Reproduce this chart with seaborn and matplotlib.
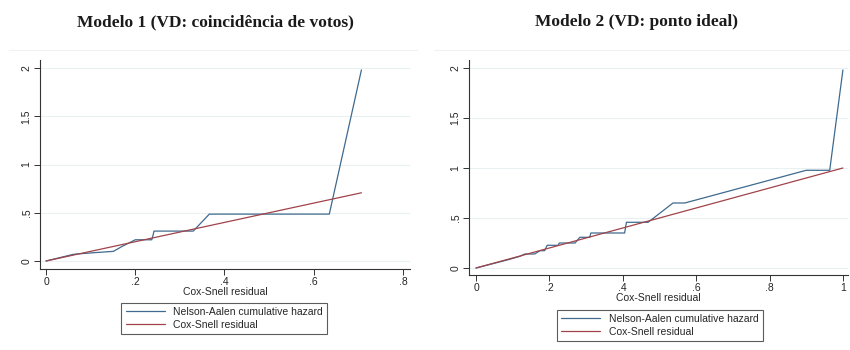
import matplotlib
matplotlib.use("Agg")
import matplotlib.pyplot as plt
import seaborn as sns
import pandas as pd

sns.set_style("white")
plt.rcParams['font.family'] = ['Liberation Sans', 'DejaVu Sans']

# Modelo 1 - Nelson-Aalen cumulative hazard vs Cox-Snell residual
m1_x = [0, 0.062, 0.107, 0.151, 0.17, 0.2, 0.237, 0.24, 0.242, 0.33, 0.366, 0.635, 0.707]
m1_y = [0, 0.07, 0.086, 0.10, 0.15, 0.22, 0.22, 0.27, 0.31, 0.31, 0.486, 0.486, 1.98]
m1_ref = [0, 0.707]

# Modelo 2
m2_x = [0, 0.088, 0.12, 0.133, 0.16, 0.174, 0.187, 0.194, 0.224, 0.227, 0.27, 0.283, 0.31,
        0.313, 0.405, 0.41, 0.469, 0.537, 0.569, 0.9, 0.964, 1.0]
m2_y = [0, 0.083, 0.117, 0.14, 0.14, 0.173, 0.173, 0.227, 0.227, 0.25, 0.25, 0.307, 0.307,
        0.35, 0.35, 0.457, 0.457, 0.65, 0.65, 0.977, 0.977, 1.98]
m2_ref = [0, 1.0]

titles = ["Modelo 1 (VD: coincidência de votos)", "Modelo 2 (VD: ponto ideal)"]
x_ticks = [[0, 0.2, 0.4, 0.6, 0.8], [0, 0.2, 0.4, 0.6, 0.8, 1]]
y_ticks = [0, 0.5, 1, 1.5, 2]
labels = ["Nelson-Aalen cumulative hazard", "Cox-Snell residual"]

blue = "#3f6a8e"
red = "#a0434a"


def stata_fmt(v):
    s = f"{v:g}"
    if s.startswith("0."):
        s = s[1:]
    return s


fig = plt.figure(figsize=(8.5, 3.5), dpi=100)
ax1 = fig.add_axes([0.0471, 0.2314, 0.4353, 0.5971])
ax2 = fig.add_axes([0.5518, 0.2143, 0.4459, 0.6143])

panels = [
    (ax1, m1_x, m1_y, m1_ref, (-0.0135, 0.816), (-0.083, 2.083), 0.264, 0.09),
    (ax2, m2_x, m2_y, m2_ref, (-0.019, 1.014), (-0.07, 2.08), 0.776, 0.07),
]

for i, (ax, xs, ys, ref, xl, yl, lx, ly) in enumerate(panels):
    df = pd.DataFrame({"x": xs, "y": ys})
    for t in y_ticks:
        ax.axhline(t, color="#e8f0f2", lw=0.8, zorder=0)
    sns.lineplot(data=df, x="x", y="y", ax=ax, color=blue, lw=0.9,
                 sort=False, estimator=None, label=labels[0])
    sns.lineplot(x=ref, y=ref, ax=ax, color=red, lw=0.9, label=labels[1])
    ax.set_xlim(*xl)
    ax.set_ylim(*yl)
    ax.set_xticks(x_ticks[i])
    ax.set_xticklabels([stata_fmt(v) for v in x_ticks[i]], fontsize=7.5)
    ax.set_yticks(y_ticks)
    ax.set_yticklabels([stata_fmt(v) for v in y_ticks], fontsize=7.5,
                       rotation=90, va="center")
    ax.tick_params(axis="both", length=4, width=0.7, color="#333333",
                   direction="out", pad=2, bottom=True, left=True)
    for s in ["top", "right"]:
        ax.spines[s].set_visible(False)
    for s in ["left", "bottom"]:
        ax.spines[s].set_color("#333333")
        ax.spines[s].set_linewidth(0.8)
    ax.set_xlabel("Cox-Snell residual", fontsize=7.5, labelpad=0)
    ax.set_ylabel("")
    ax.get_legend().remove()
    handles, labs = ax.get_legend_handles_labels()
    leg = fig.legend(handles, labs, loc="center", bbox_to_anchor=(lx, ly),
                     fontsize=7.5, frameon=True, fancybox=False,
                     edgecolor="#333333", handlelength=3.8, borderpad=0.4,
                     labelspacing=0.3)
    leg.get_frame().set_linewidth(0.8)

# faint top border lines
fig.add_artist(plt.Line2D([0.01, 0.49], [1 - 50 / 350] * 2, color="#eef2f2", lw=0.8))
fig.add_artist(plt.Line2D([0.51, 0.999], [1 - 50 / 350] * 2, color="#eef2f2", lw=0.8))

fig.text(0.254, 1 - 22 / 350, titles[0], ha="center", va="center",
         fontsize=12.5, family=["Liberation Serif"], weight="bold", color="#1a1a1a")
fig.text(0.749, 1 - 22 / 350, titles[1], ha="center", va="center",
         fontsize=12.5, family=["Liberation Serif"], weight="bold", color="#1a1a1a")

fig.savefig("out.png", dpi=100, facecolor="white")
